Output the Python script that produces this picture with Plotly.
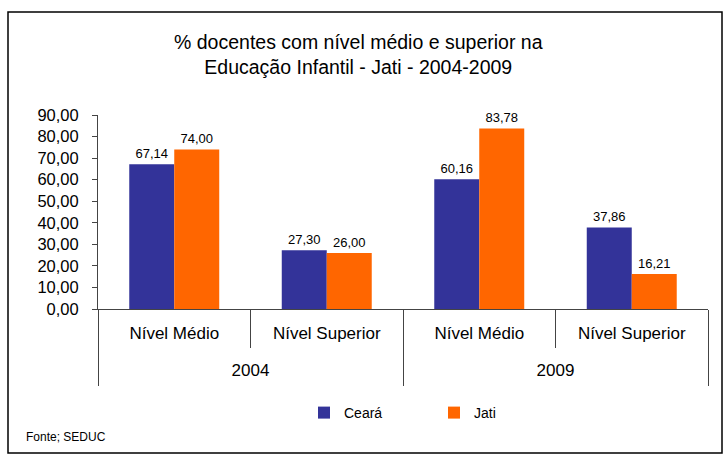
import plotly.graph_objects as go

years = ["2004", "2004", "2009", "2009"]
levels = ["Nível Médio", "Nível Superior", "Nível Médio", "Nível Superior"]
ceara = [67.14, 27.30, 60.16, 37.86]
jati = [74.00, 26.00, 83.78, 16.21]
series_names = ["Ceará", "Jati"]
colors = ["#333399", "#FF6600"]
title_lines = ["% docentes com nível médio e superior na", "Educação Infantil - Jati - 2004-2009"]
source_note = "Fonte; SEDUC"
year_labels = ["2004", "2009"]

def fmt(v):
    return f"{v:.2f}".replace(".", ",")

FONT = "Liberation Sans, Arial, sans-serif"
AX = "#444"

n = len(levels)
xr = [-0.5, n - 0.5]
inner_pos = list(range(n))
inner_bounds = [i + 0.5 for i in range(n - 1) if years[i] == years[i + 1]]
outer_bounds = [-0.5] + [i + 0.5 for i in range(n - 1) if years[i] != years[i + 1]] + [n - 0.5]
outer_pos = [sum(i for i in range(n) if years[i] == y) / years.count(y) for y in year_labels]

fig = go.Figure()
for name, vals, col in zip(series_names, [ceara, jati], colors):
    fig.add_trace(go.Bar(
        x=[years, levels], y=vals, name=name,
        marker=dict(color=col, line=dict(width=0)),
        text=[fmt(v) for v in vals], textposition="outside",
        textfont=dict(size=13, color="black", family=FONT),
        cliponaxis=False, hoverinfo="skip",
    ))

# invisible anchor traces so that the two label axes (inner / outer categories) are drawn
fig.add_trace(go.Scatter(x=inner_pos, y=[None] * n, mode="none", xaxis="x2", yaxis="y",
                         showlegend=False, hoverinfo="skip"))
fig.add_trace(go.Scatter(x=outer_pos, y=[None] * len(outer_pos), mode="none", xaxis="x3", yaxis="y",
                         showlegend=False, hoverinfo="skip"))

# plot area: x 98..708, y 115..309
L, R, T, B = 98, 728 - 708, 115, 459 - 309
W, H = 708 - 98, 309 - 115

def px_x(p):
    return (p - L) / W

def px_y(p):
    return (309 - p) / H

fig.update_layout(
    width=728, height=459,
    margin=dict(l=L, r=R, t=T, b=B, autoexpand=False),
    paper_bgcolor="white", plot_bgcolor="white",
    separators=",.",
    barmode="group", bargap=0.41, bargroupgap=0,
    font=dict(family=FONT, color="black"),
    showlegend=True,
    legend=dict(orientation="h", x=px_x(304), y=px_y(413), xanchor="left", yanchor="middle",
                font=dict(size=14, family=FONT), entrywidth=85, entrywidthmode="pixels",
                traceorder="normal", bgcolor="rgba(0,0,0,0)"),
    annotations=[
        dict(text=title_lines[0] + "<br>" + title_lines[1], xref="paper", yref="paper",
             x=px_x(358), y=px_y(54), xanchor="center", yanchor="middle", showarrow=False,
             font=dict(size=19.5, family=FONT)),
        dict(text=source_note, xref="paper", yref="paper", x=px_x(24), y=px_y(437),
             xanchor="left", yanchor="middle", showarrow=False, font=dict(size=12, family=FONT)),
    ],
    shapes=[
        dict(type="rect", xref="paper", yref="paper", x0=px_x(8), x1=px_x(722),
             y0=px_y(453), y1=px_y(12), line=dict(color="black", width=1.5), fillcolor="rgba(0,0,0,0)",
             layer="below"),
    ],
    xaxis=dict(type="multicategory", range=xr, showline=True, linecolor=AX, linewidth=1,
               showticklabels=False, ticks="", showdividers=False, showgrid=False,
               automargin=False, fixedrange=True),
    xaxis2=dict(overlaying="x", anchor="y", side="bottom", type="linear", range=xr,
                tickmode="array", tickvals=inner_pos, ticktext=levels, ticks="",
                showline=False, showgrid=False, zeroline=False, ticklabelstandoff=12,
                tickfont=dict(size=17, family=FONT),
                minor=dict(tickmode="array", tickvals=inner_bounds, ticks="outside", ticklen=38,
                           tickcolor=AX, tickwidth=1, showgrid=False),
                automargin=False, fixedrange=True),
    xaxis3=dict(overlaying="x", anchor="y", side="bottom", type="linear", range=xr,
                tickmode="array", tickvals=outer_pos, ticktext=year_labels, ticks="",
                showline=False, showgrid=False, zeroline=False, ticklabelstandoff=49,
                tickfont=dict(size=17, family=FONT),
                minor=dict(tickmode="array", tickvals=outer_bounds, ticks="outside", ticklen=76,
                           tickcolor=AX, tickwidth=1, showgrid=False),
                automargin=False, fixedrange=True),
    yaxis=dict(range=[0, 90], dtick=10, tickformat=".2f", showgrid=False, zeroline=False,
               showline=True, linecolor=AX, linewidth=1, ticks="outside", ticklen=5,
               tickcolor=AX, tickfont=dict(size=16.5, family=FONT), ticklabelstandoff=10,
               automargin=False, fixedrange=True),
)

fig.write_html("out.html", post_script="document.body.style.margin='0';",
               config={"displayModeBar": False})
